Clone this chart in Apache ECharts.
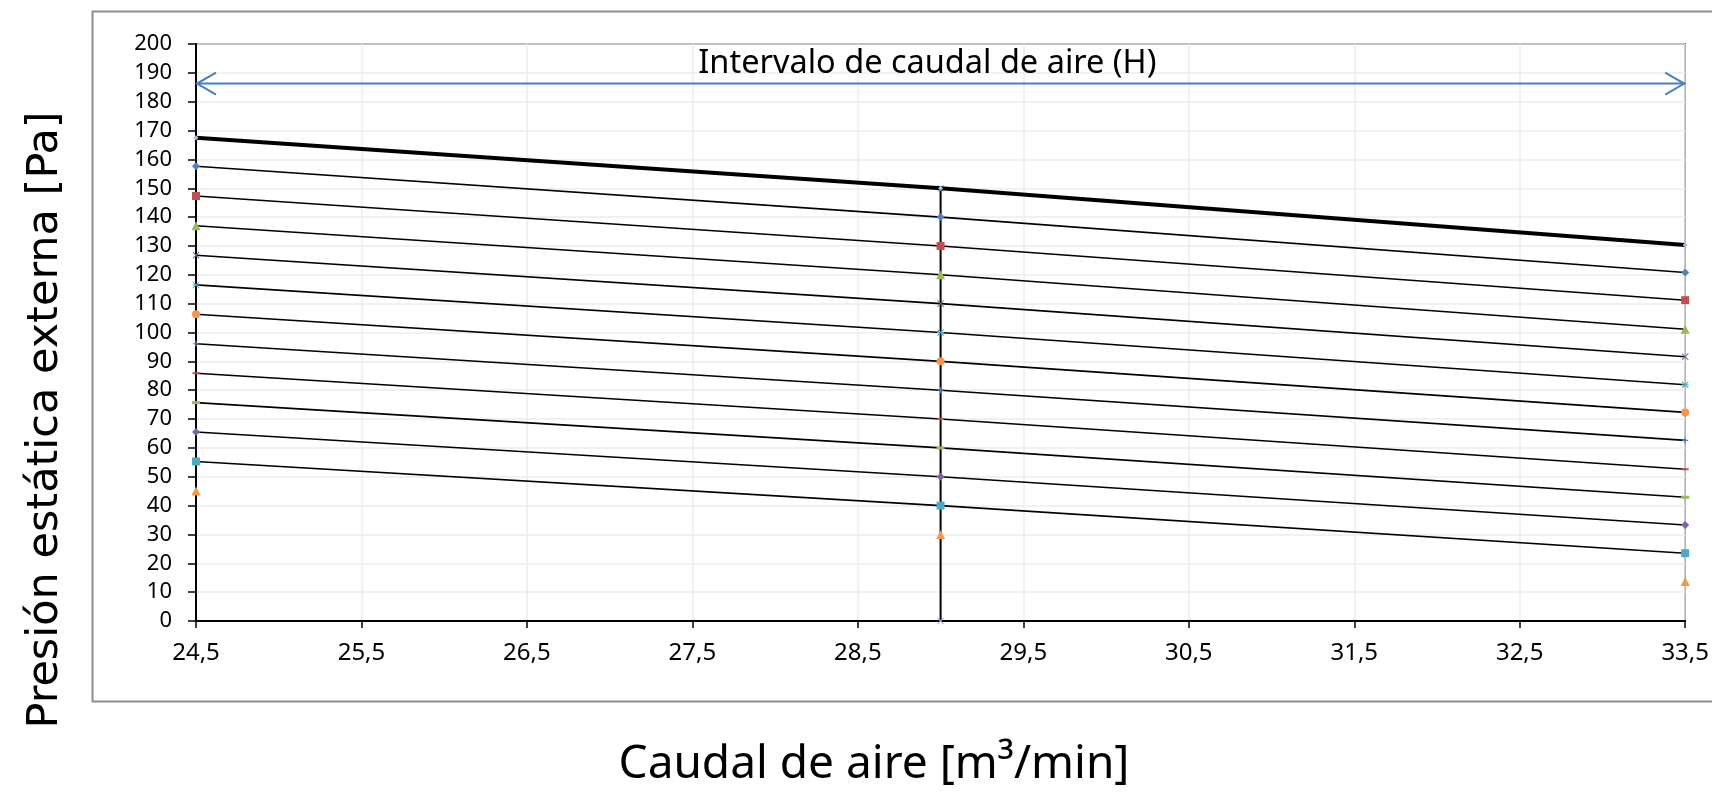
<!DOCTYPE html>
<html>
<head>
<meta charset="utf-8">
<script src="https://cdn.jsdelivr.net/npm/echarts@6/dist/echarts.min.js"></script>
<style>
html,body{margin:0;padding:0;background:#fff;}
#c{width:1712px;height:793px;}
</style>
</head>
<body>
<div id="c"></div>
<script>
// ---- data ----
const xFlow = [24.5, 29, 33.5];                 // caudal de aire [m3/min]
const topCurve = [167.5, 150, 130.3];           // thick curve
const leftP  = [157.6, 147.3, 137.0, 126.8, 116.5, 106.3, 96.1, 85.9, 75.7, 65.5, 55.3, 45.1];
const midP   = [140, 130, 120, 110, 100, 90, 80, 70, 60, 50, 40, 30];
const rightP = [120.8, 111.2, 101.1, 91.6, 81.9, 72.3, 62.6, 52.6, 42.9, 33.3, 23.5, 13.7];
const vertX = [29, 29];
const vertY = [0, 150];
const arrowX = [24.5, 33.5];
const arrowY = 186.3;
const labelPos = [28.92, 193.2];
const labelText = 'Intervalo de caudal de aire (H)';
const xTitle = 'Caudal de aire [m³/min]';
const yTitle = 'Presión estática externa [Pa]';

// ---- marker styles (Excel default series look) ----
const P_X = 'path://M0,1 L1,0 L5,4 L9,0 L10,1 L6,5 L10,9 L9,10 L5,6 L1,10 L0,9 L4,5 Z';
const P_STAR = 'path://M0,1 L1,0 L5,4 L9,0 L10,1 L6,5 L10,9 L9,10 L5,6 L1,10 L0,9 L4,5 Z M0,4.3 L10,4.3 L10,5.7 L0,5.7 Z';
const P_PLUS = 'path://M4,0 L6,0 L6,4 L10,4 L10,6 L6,6 L6,10 L4,10 L4,6 L0,6 L0,4 L4,4 Z';
const markers = [
  {c:'#4F81BD', s:'diamond', z:8},
  {c:'#C0504D', s:'rect', z:8},
  {c:'#9BBB59', s:'triangle', z:9},
  {c:'#8064A2', s:P_X, z:7},
  {c:'#4BACC6', s:P_STAR, z:7},
  {c:'#F79646', s:'circle', z:8},
  {c:'#4F81BD', s:P_PLUS, z:6},
  {c:'#C0504D', s:'rect', z:[7,2]},
  {c:'#9BBB59', s:'rect', z:[8,3]},
  {c:'#8064A2', s:'diamond', z:8},
  {c:'#4BACC6', s:'rect', z:8},
  {c:'#F79646', s:'triangle', z:9}
];

const series = [];
leftP.forEach((v, i) => {
  const m = markers[i];
  series.push({
    type: 'line',
    data: [[xFlow[0], leftP[i]], [xFlow[1], midP[i]], [xFlow[2], rightP[i]]],
    symbol: m.s, symbolSize: m.z, showSymbol: true,
    itemStyle: {color: m.c},
    lineStyle: {color: '#000', width: 1.6, opacity: i === 11 ? 0 : 1},
    silent: true, animation: false, z: 3
  });
});
series.push({
  type: 'line',
  data: xFlow.map((x, i) => [x, topCurve[i]]),
  symbol: 'diamond', symbolSize: 5,
  itemStyle: {color: '#A7C0E6'},
  lineStyle: {color: '#000', width: 4},
  silent: true, animation: false, z: 4
});
series.push({
  type: 'line',
  data: vertX.map((x, i) => [x, vertY[i]]),
  symbol: P_X, symbolSize: 7,
  itemStyle: {color: '#A9B3DE'},
  lineStyle: {color: '#000', width: 2},
  silent: true, animation: false, z: 2
});
series.push({
  type: 'custom',
  silent: true, animation: false, z: 5,
  clip: false,
  data: [0],
  renderItem: function (params, api) {
    const a = api.coord([arrowX[0], arrowY]);
    const b = api.coord([arrowX[1], arrowY]);
    const t = api.coord(labelPos);
    const hl = 20, hh = 11;
    const st = {stroke: '#4A7EBF', lineWidth: 2, fill: null};
    return {
      type: 'group',
      children: [
        {type: 'line', shape: {x1: a[0], y1: a[1], x2: b[0], y2: b[1]}, style: st},
        {type: 'polyline', shape: {points: [[a[0] + hl, a[1] - hh], [a[0] + 1, a[1]], [a[0] + hl, a[1] + hh]]}, style: st},
        {type: 'polyline', shape: {points: [[b[0] - hl, b[1] - hh], [b[0] - 1, b[1]], [b[0] - hl, b[1] + hh]]}, style: st},
        {type: 'text', x: t[0], y: t[1], style: {text: labelText, fill: '#000', font: '32.5px "Noto Sans"', align: 'center', verticalAlign: 'middle'}}
      ]
    };
  }
});

const chart = echarts.init(document.getElementById('c'), null, {renderer: 'canvas'});
chart.setOption({
  animation: false,
  backgroundColor: '#fff',
  grid: {left: 196, right: 24, top: 44, bottom: 172, show: true, borderColor: '#000', borderWidth: 1.5, containLabel: false},
  xAxis: {
    type: 'value', min: 24.5, max: 33.5, interval: 1,
    axisLine: {show: true, onZero: false, lineStyle: {color: '#000', width: 2}},
    axisTick: {show: true, length: 7, lineStyle: {color: '#000', width: 1.5}},
    axisLabel: {color: '#000', fontSize: 24, fontFamily: 'Noto Sans', margin: 20,
      formatter: v => v.toFixed(1).replace('.', ',')},
    splitLine: {show: true, lineStyle: {color: '#EDEDED', width: 1.5}}
  },
  yAxis: {
    type: 'value', min: 0, max: 200, interval: 10,
    axisLine: {show: true, lineStyle: {color: '#000', width: 2}},
    axisTick: {show: true, length: 8, lineStyle: {color: '#000', width: 1.5}},
    axisLabel: {color: '#000', fontSize: 22, fontFamily: 'Noto Sans', margin: 24},
    splitLine: {show: true, lineStyle: {color: '#EDEDED', width: 1.5}}
  },
  graphic: [
    {type: 'rect', left: 90, top: 9, shape: {width: 1640, height: 690}, style: {fill: null, stroke: '#8C8C8C', lineWidth: 2}, silent: true, z: -10},
    {type: 'text', x: 46, y: 420, rotation: Math.PI / 2, style: {text: yTitle, font: '43px "DejaVu Sans"', fill: '#000', align: 'center', verticalAlign: 'middle'}},
    {type: 'text', x: 874, y: 765, style: {text: xTitle, font: '46px "Noto Sans"', fill: '#000', align: 'center', verticalAlign: 'middle'}}
  ],
  series: series
});
</script>
</body>
</html>
